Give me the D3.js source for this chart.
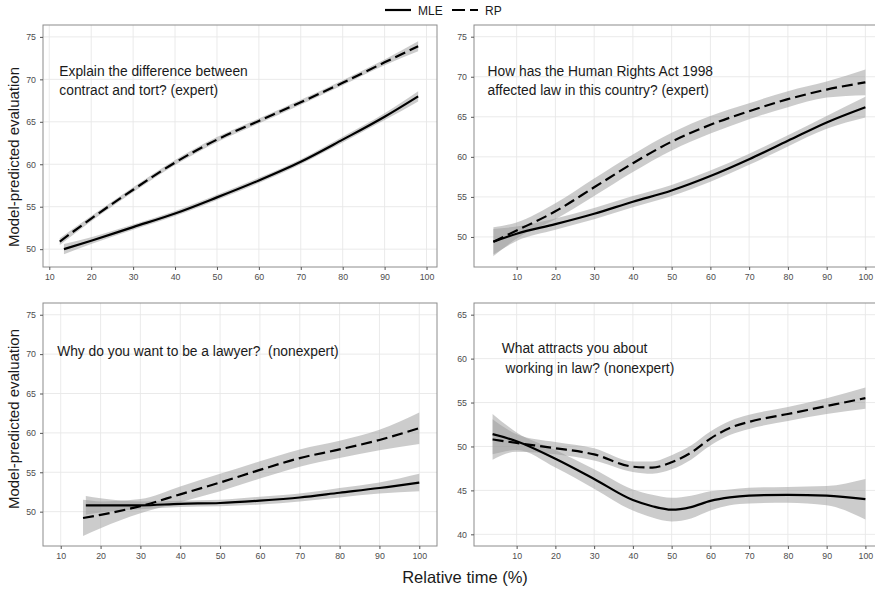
<!DOCTYPE html>
<html>
<head>
<meta charset="utf-8">
<script src="https://cdn.jsdelivr.net/npm/d3@7"></script>
<style>
  html, body { margin: 0; padding: 0; background: #fff; }
  svg { display: block; font-family: "Liberation Sans", Arial, Helvetica, sans-serif; }
</style>
</head>
<body>
<svg id="chart" width="875" height="598"></svg>
<script>
// ---- tick labels ----
const xTicks = [10, 20, 30, 40, 50, 60, 70, 80, 90, 100];
const yTicksUpper = [50, 55, 60, 65, 70, 75];
const yTicksLower = [40, 45, 50, 55, 60, 65];

// ---- Panel A: contract vs tort (expert) ----
const aMleX  = [13.5, 20, 30, 40, 50, 60, 70, 80, 90, 98];
const aMle   = [50.0, 51.0, 52.6, 54.2, 56.1, 58.1, 60.3, 62.9, 65.6, 68.0];
const aMleCi = [0.6, 0.4, 0.3, 0.3, 0.3, 0.3, 0.3, 0.35, 0.4, 0.6];
const aRpX   = [12.5, 20, 30, 40, 50, 60, 70, 80, 90, 98];
const aRp    = [50.9, 53.6, 57.0, 60.2, 62.9, 65.1, 67.3, 69.6, 72.0, 73.9];
const aRpCi  = [0.4, 0.3, 0.3, 0.3, 0.3, 0.3, 0.3, 0.3, 0.35, 0.6];

// ---- Panel B: Human Rights Act (expert) ----
const bX     = [4, 10, 20, 30, 40, 50, 60, 70, 80, 90, 100];
const bMle   = [49.4, 50.4, 51.6, 52.9, 54.4, 55.8, 57.6, 59.7, 62.0, 64.3, 66.2];
const bMleCi = [1.6, 0.9, 0.7, 0.7, 0.7, 0.7, 0.7, 0.7, 0.7, 0.8, 1.3];
const bRp    = [49.4, 50.8, 53.2, 56.2, 59.2, 61.9, 64.0, 65.7, 67.2, 68.4, 69.3];
const bRpCi  = [1.8, 1.0, 1.0, 1.1, 1.1, 1.1, 1.1, 1.0, 1.0, 1.0, 1.6];

// ---- Panel C: why a lawyer (nonexpert) ----
const cMleX  = [16.3, 20, 30, 40, 50, 60, 70, 80, 90, 100];
const cMle   = [50.8, 50.8, 50.8, 51.0, 51.1, 51.4, 51.8, 52.4, 53.0, 53.7];
const cMleCi = [1.2, 0.9, 0.5, 0.4, 0.4, 0.5, 0.5, 0.6, 0.7, 1.1];
const cRpX   = [15.6, 20, 30, 40, 50, 60, 70, 80, 90, 100];
const cRp    = [49.2, 49.6, 50.7, 52.2, 53.7, 55.3, 56.8, 57.9, 59.1, 60.6];
const cRpCi  = [2.3, 1.7, 0.9, 1.0, 1.1, 1.1, 1.1, 1.1, 1.3, 2.0];

// ---- Panel D: working in law (nonexpert) ----
const dX     = [3.8, 10, 20, 30, 40, 45, 50, 55, 60, 65, 70, 80, 90, 100];
const dMle   = [51.4, 50.6, 48.6, 46.3, 43.9, 43.2, 42.8, 43.1, 43.8, 44.2, 44.4, 44.5, 44.4, 44.0];
const dMleCi = [2.3, 1.0, 1.0, 1.1, 1.2, 1.3, 1.35, 1.3, 1.1, 0.9, 0.9, 0.9, 1.1, 2.3];
const dRp    = [50.8, 50.4, 49.8, 49.1, 47.7, 47.6, 48.2, 49.3, 50.9, 52.1, 52.8, 53.7, 54.6, 55.5];
const dRpCi  = [2.3, 1.0, 0.7, 0.7, 0.6, 0.7, 0.8, 0.8, 0.8, 0.8, 0.8, 0.8, 0.9, 1.2];

// ---- panel titles ----
const titleA = ["Explain the difference between", "contract and tort? (expert)"];
const titleB = ["How has the Human Rights Act 1998", "affected law in this country? (expert)"];
const titleC = ["Why do you want to be a lawyer?  (nonexpert)"];
const titleD = ["What attracts you about", " working in law? (nonexpert)"];

const zip = (xs, ys, cis) => xs.map((x, i) => ({x, y: ys[i], lo: ys[i] - cis[i], hi: ys[i] + cis[i]}));

const panels = [
  { mle: zip(aMleX, aMle, aMleCi), rp: zip(aRpX, aRp, aRpCi), yTicks: yTicksUpper, title: titleA,
    box: {l: 43, r: 437, t: 25, b: 267}, xDom: [8.5, 102.5], yDom: [47.9, 76.4], label: [12.4, 70.4] },
  { mle: zip(bX, bMle, bMleCi), rp: zip(bX, bRp, bRpCi), yTicks: yTicksUpper, title: titleB,
    box: {l: 474, r: 884, t: 25, b: 267}, xDom: [-1, 104.8], yDom: [46.25, 76.46], label: [2.5, 70.1] },
  { mle: zip(cMleX, cMle, cMleCi), rp: zip(cRpX, cRp, cRpCi), yTicks: yTicksUpper, title: titleC,
    box: {l: 43, r: 437, t: 303, b: 546}, xDom: [5.55, 104.45], yDom: [45.64, 76.49], label: [9.1, 69.7] },
  { mle: zip(dX, dMle, dMleCi), rp: zip(dX, dRp, dRpCi), yTicks: yTicksLower, title: titleD,
    box: {l: 474, r: 884, t: 303, b: 546}, xDom: [-1, 104.8], yDom: [38.67, 66.33], label: [6.15, 60.6] }
];

const svg = d3.select("#chart");
svg.append("rect").attr("width", 875).attr("height", 598).attr("fill", "#fff");

const dash = "11,5";

panels.forEach(p => {
  const x = d3.scaleLinear().domain(p.xDom).range([p.box.l, p.box.r]);
  const y = d3.scaleLinear().domain(p.yDom).range([p.box.b, p.box.t]);
  const g = svg.append("g");

  // grid
  g.selectAll(".vg").data(xTicks).join("line")
    .attr("x1", d => x(d)).attr("x2", d => x(d)).attr("y1", p.box.t).attr("y2", p.box.b)
    .attr("stroke", "#e8e8e8").attr("stroke-width", 0.9);
  g.selectAll(".hg").data(p.yTicks).join("line")
    .attr("y1", d => y(d)).attr("y2", d => y(d)).attr("x1", p.box.l).attr("x2", p.box.r)
    .attr("stroke", "#e8e8e8").attr("stroke-width", 0.9);

  // confidence bands
  const area = d3.area().x(d => x(d.x)).y0(d => y(d.lo)).y1(d => y(d.hi)).curve(d3.curveMonotoneX);
  [p.mle, p.rp].forEach(s => {
    g.append("path").attr("d", area(s)).attr("fill", "#999").attr("fill-opacity", 0.5);
  });

  // fitted lines
  const line = d3.line().x(d => x(d.x)).y(d => y(d.y)).curve(d3.curveMonotoneX);
  g.append("path").attr("d", line(p.mle)).attr("fill", "none")
    .attr("stroke", "#000").attr("stroke-width", 2.2);
  g.append("path").attr("d", line(p.rp)).attr("fill", "none")
    .attr("stroke", "#000").attr("stroke-width", 2.2).attr("stroke-dasharray", dash);

  // panel label
  const t = g.append("text").attr("x", x(p.label[0])).attr("y", y(p.label[1]))
    .attr("font-size", 13.8).attr("fill", "#1a1a1a").style("white-space", "pre");
  p.title.forEach((s, i) => {
    t.append("tspan").attr("x", x(p.label[0])).attr("dy", i === 0 ? 0 : 19.5).text(s);
  });

  // border
  g.append("rect").attr("x", p.box.l).attr("y", p.box.t)
    .attr("width", p.box.r - p.box.l).attr("height", p.box.b - p.box.t)
    .attr("fill", "none").attr("stroke", "#8c8c8c").attr("stroke-width", 1);

  // axes
  const xa = g.append("g").attr("transform", `translate(0,${p.box.b})`)
    .call(d3.axisBottom(x).tickValues(xTicks).tickSize(3).tickPadding(4));
  const ya = g.append("g").attr("transform", `translate(${p.box.l},0)`)
    .call(d3.axisLeft(y).tickValues(p.yTicks).tickSize(3).tickPadding(4));
  [xa, ya].forEach(a => {
    a.select(".domain").remove();
    a.selectAll("line").attr("stroke", "#555");
    a.selectAll("text").attr("fill", "#4d4d4d").attr("font-size", 8.8)
      .attr("font-family", "'Liberation Sans', Arial, sans-serif");
  });
});

// y-axis titles
[[19, 157], [19, 419]].forEach(([tx, ty]) => {
  svg.append("text").attr("transform", `translate(${tx},${ty}) rotate(-90)`)
    .attr("text-anchor", "middle").attr("font-size", 15).attr("fill", "#1a1a1a")
    .text("Model-predicted evaluation");
});

// x-axis title
svg.append("text").attr("x", 465).attr("y", 583).attr("text-anchor", "middle")
  .attr("font-size", 16.5).attr("fill", "#1a1a1a").text("Relative time (%)");

// legend
const lg = svg.append("g");
lg.append("line").attr("x1", 385).attr("x2", 411).attr("y1", 10).attr("y2", 10)
  .attr("stroke", "#000").attr("stroke-width", 2.2);
lg.append("text").attr("x", 418).attr("y", 14.5).attr("font-size", 12).attr("fill", "#1a1a1a").text("MLE");
lg.append("line").attr("x1", 452).attr("x2", 478).attr("y1", 10).attr("y2", 10)
  .attr("stroke", "#000").attr("stroke-width", 2.2).attr("stroke-dasharray", "13,5");
lg.append("text").attr("x", 485).attr("y", 14.5).attr("font-size", 12).attr("fill", "#1a1a1a").text("RP");
</script>
</body>
</html>
